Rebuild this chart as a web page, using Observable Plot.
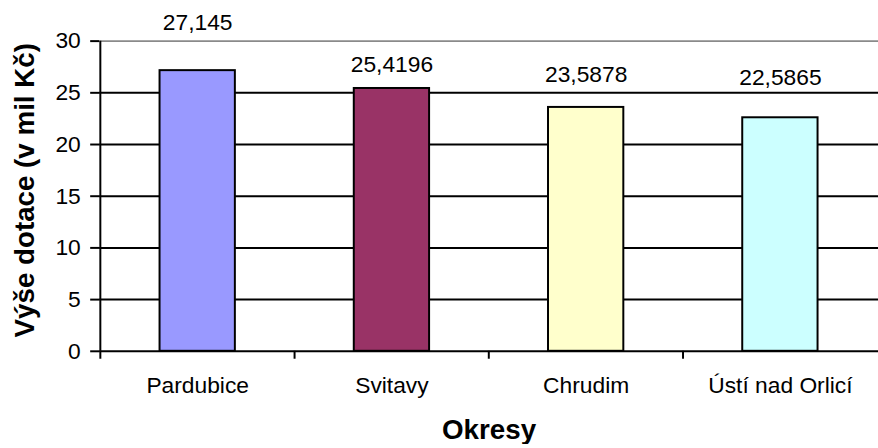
<!DOCTYPE html>
<html>
<head>
<meta charset="utf-8">
<script src="https://cdn.jsdelivr.net/npm/d3@7"></script>
<script src="https://cdn.jsdelivr.net/npm/@observablehq/plot@0.6"></script>
<style>
  html, body { margin: 0; padding: 0; overflow: hidden; background: #fff; }
  svg { display: block; }
</style>
</head>
<body>
<div id="chart"></div>
<script>
const categories = ["Pardubice", "Svitavy", "Chrudim", "Ústí nad Orlicí"];
const values = [27.145, 25.4196, 23.5878, 22.5865];
const barColors = ["#9999FF", "#993366", "#FFFFCC", "#CCFFFF"];
const yTicks = [0, 5, 10, 15, 20, 25, 30];
const yTitle = "Výše dotace (v mil Kč)";
const xTitle = "Okresy";

// layout / styling (not data)
const W = 886, H = 448, ML = 100, MR = 0, MT = 41, MB = 94;
const step = (W - ML - MR) / categories.length;
const labelLift = [-41, -17, -26, -33];
const font = "'Liberation Sans', Arial, sans-serif";

const table = categories.map((c, i) => ({cat: c, value: values[i], color: barColors[i],
  label: String(values[i]).replace(".", ",")}));

const chart = Plot.plot({
  width: W, height: H,
  marginLeft: ML, marginRight: MR, marginTop: MT, marginBottom: MB,
  style: {fontFamily: font, fontSize: "23px", color: "black", background: "white", overflow: "visible"},
  x: {domain: categories, paddingInner: 0.61, paddingOuter: 0.305, label: null},
  y: {domain: [0, 30], label: null},
  color: {type: "identity"},
  marks: [
    Plot.ruleY(yTicks.filter(t => t > 0 && t < 30), {y: d => d, stroke: "black", strokeWidth: 2}),
    Plot.ruleY([30], {y: d => d, stroke: "#8a8a8a", strokeWidth: 2}),
    Plot.barY(table, {x: "cat", y: "value", fill: "color", stroke: "black", strokeWidth: 2}),
    Plot.ruleY([0], {y: d => d, stroke: "black", strokeWidth: 2}),
    Plot.ruleX([categories[0]], {x: d => d, y1: 0, y2: 30, dx: -step / 2, stroke: "black", strokeWidth: 2}),
    Plot.ruleX(categories, {x: d => d, y1: 0, y2: 0, insetBottom: -8, dx: -step / 2, stroke: "black", strokeWidth: 2}),
    Plot.axisY({ticks: yTicks, tickSize: 9, tickPadding: 10, strokeWidth: 2, fontSize: 23, label: null, tickFormat: d => String(d)}),
    Plot.axisX({tickSize: 0, tickPadding: 26, fontSize: 23, label: null}),
    ...table.map((d, i) => Plot.text([d], {x: "cat", y: "value", text: "label", lineAnchor: "bottom",
      dy: labelLift[i], fontSize: 23, fill: "black"})),
    Plot.text([xTitle], {frameAnchor: "bottom", textAnchor: "middle", lineAnchor: "middle", dy: 80, fontSize: 28, fontWeight: "bold", fill: "black"}),
    Plot.text([yTitle], {frameAnchor: "left", textAnchor: "middle", rotate: -90, lineAnchor: "middle", dx: -75, dy: -6, fontSize: 28, fontWeight: "bold", fill: "black"})
  ]
});
document.getElementById("chart").appendChild(chart);
</script>
</body>
</html>
